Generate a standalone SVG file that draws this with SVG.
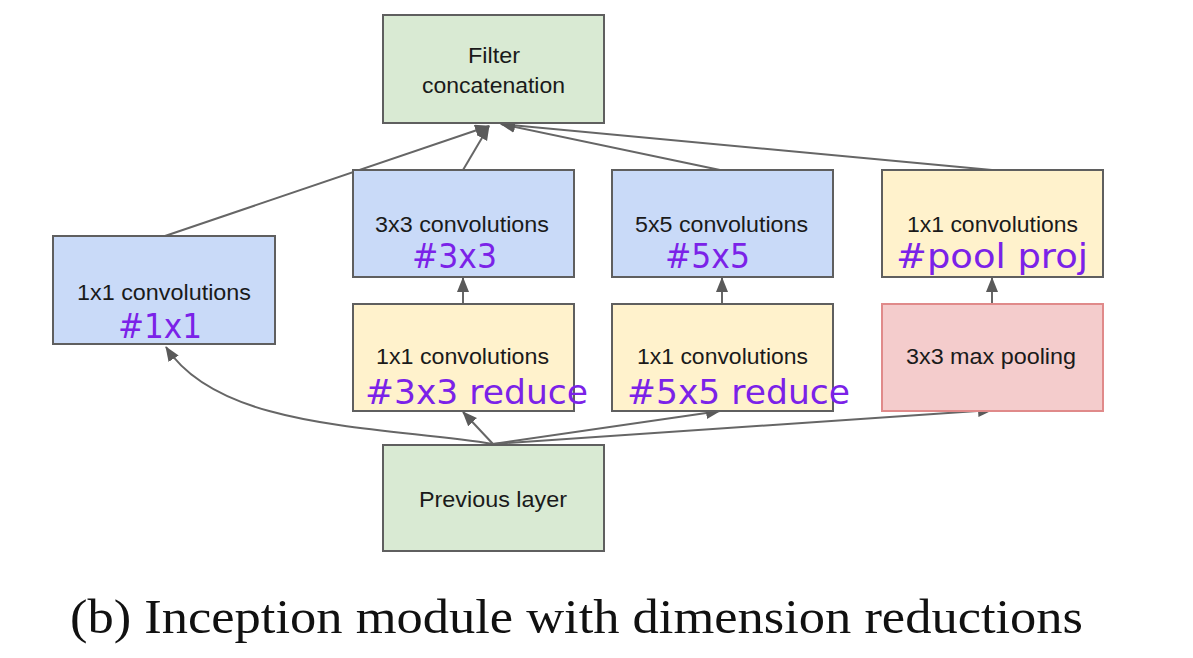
<svg xmlns="http://www.w3.org/2000/svg" width="1193" height="658" viewBox="0 0 1193 658">
<style>
.box{stroke:#5f5f5f;stroke-width:2}
.blue{fill:#c9daf8}
.green{fill:#d9ead3}
.yellow{fill:#fff2cc}
.pink{fill:#f4cccc;stroke:#e08a8a}
.lbl{font-family:"Liberation Sans",Arial,sans-serif;font-size:22px;fill:#1a1a1a}
.num{font-family:"DejaVu Sans",Verdana,sans-serif;font-size:33px;fill:#7b22e8}
.cap{font-family:"Liberation Serif","Times New Roman",serif;font-size:48px;fill:#111}
.edge{fill:none;stroke:#666;stroke-width:2}
</style>
<defs>
<marker id="arr" markerUnits="userSpaceOnUse" markerWidth="16" markerHeight="14" refX="14" refY="6" orient="auto">
<path d="M0,0 L15,6 L0,12 z" fill="#5a5a5a"/>
</marker>
</defs>
<g id="connectors">
<path class="edge" d="M165,236 L489,126" marker-end="url(#arr)"/>
<path class="edge" d="M463,170 L489,126" marker-end="url(#arr)"/>
<path class="edge" d="M720,170 L501,124" marker-end="url(#arr)"/>
<path class="edge" d="M992,170 L501,124" marker-end="url(#arr)"/>
<path class="edge" d="M463,304 L463,278" marker-end="url(#arr)"/>
<path class="edge" d="M722,304 L722,278" marker-end="url(#arr)"/>
<path class="edge" d="M992,304 L992,278" marker-end="url(#arr)"/>
<path class="edge" d="M493,444 L463,412" marker-end="url(#arr)"/>
<path class="edge" d="M493,444 L720,411" marker-end="url(#arr)"/>
<path class="edge" d="M493,444 L992,410" marker-end="url(#arr)"/>
<path class="edge" d="M493,444 C380,426 220,430 166,347" marker-end="url(#arr)"/>
</g>
<g id="filter-concat">
<rect class="box green" x="383" y="15" width="221" height="108"/>
<text class="lbl" x="468" y="63" textLength="52" lengthAdjust="spacingAndGlyphs">Filter</text>
<text class="lbl" x="422" y="93" textLength="143" lengthAdjust="spacingAndGlyphs">concatenation</text>
</g>
<g id="conv1x1">
<rect class="box blue" x="53" y="236" width="222" height="108"/>
<text class="lbl" x="77" y="300" textLength="174" lengthAdjust="spacingAndGlyphs">1x1 convolutions</text>
<text class="num" x="118" y="338" textLength="84" lengthAdjust="spacingAndGlyphs">#1x1</text>
</g>
<g id="conv3x3">
<rect class="box blue" x="353" y="170" width="221" height="107"/>
<text class="lbl" x="375" y="232" textLength="174" lengthAdjust="spacingAndGlyphs">3x3 convolutions</text>
<text class="num" x="412" y="268" textLength="85" lengthAdjust="spacingAndGlyphs">#3x3</text>
</g>
<g id="conv5x5">
<rect class="box blue" x="612" y="170" width="221" height="107"/>
<text class="lbl" x="635" y="232" textLength="173" lengthAdjust="spacingAndGlyphs">5x5 convolutions</text>
<text class="num" x="665" y="268" textLength="85" lengthAdjust="spacingAndGlyphs">#5x5</text>
</g>
<g id="pool-proj">
<rect class="box yellow" x="882" y="170" width="221" height="107"/>
<text class="lbl" x="907" y="232" textLength="171" lengthAdjust="spacingAndGlyphs">1x1 convolutions</text>
<text class="num" x="896" y="268" textLength="192" lengthAdjust="spacingAndGlyphs">#pool proj</text>
</g>
<g id="reduce3x3">
<rect class="box yellow" x="353" y="304" width="221" height="107"/>
<text class="lbl" x="376" y="364" textLength="173" lengthAdjust="spacingAndGlyphs">1x1 convolutions</text>
<text class="num" x="365" y="404" textLength="223" lengthAdjust="spacingAndGlyphs">#3x3 reduce</text>
</g>
<g id="reduce5x5">
<rect class="box yellow" x="612" y="304" width="221" height="107"/>
<text class="lbl" x="637" y="364" textLength="171" lengthAdjust="spacingAndGlyphs">1x1 convolutions</text>
<text class="num" x="627" y="404" textLength="223" lengthAdjust="spacingAndGlyphs">#5x5 reduce</text>
</g>
<g id="maxpool">
<rect class="box pink" x="882" y="304" width="221" height="107"/>
<text class="lbl" x="906" y="364" textLength="170" lengthAdjust="spacingAndGlyphs">3x3 max pooling</text>
</g>
<g id="previous-layer">
<rect class="box green" x="383" y="445" width="221" height="106"/>
<text class="lbl" x="419" y="507" textLength="148" lengthAdjust="spacingAndGlyphs">Previous layer</text>
</g>
<text class="cap" x="70" y="633" textLength="1013" lengthAdjust="spacingAndGlyphs">(b) Inception module with dimension reductions</text>
</svg>
